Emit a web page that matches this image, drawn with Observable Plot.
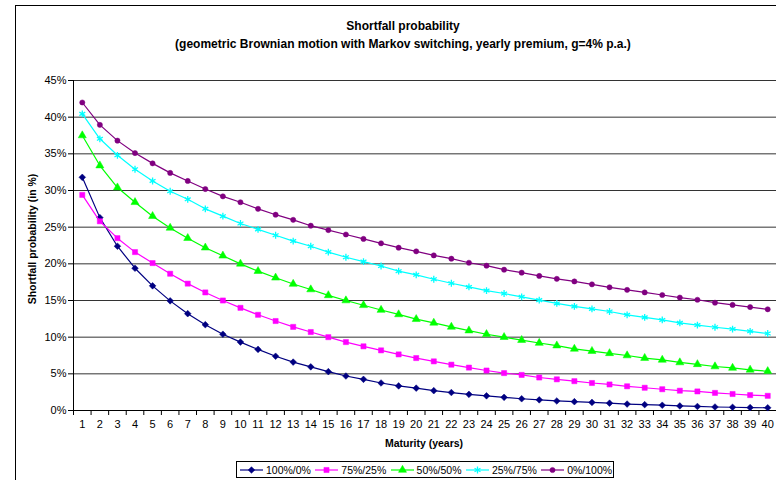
<!DOCTYPE html>
<html>
<head>
<meta charset="utf-8">
<script src="https://cdn.jsdelivr.net/npm/d3@7"></script>
<script src="https://cdn.jsdelivr.net/npm/@observablehq/plot@0.6"></script>
<style>
  html, body { margin: 0; padding: 0; background: #fff; overflow: hidden; }
  #wrap { position: relative; width: 776px; height: 480px; overflow: hidden; font-family: "Liberation Sans", Arial, sans-serif; }
  #frame { position: absolute; left: 15px; top: 5px; width: 900px; height: 600px; border: 1.5px solid #000; box-sizing: border-box; }
  #chart { position: absolute; left: 0; top: 0; }
  .t { position: absolute; font-weight: bold; white-space: nowrap; color: #000; }
  #legend { position: absolute; left: 236px; top: 461px; width: 378px; height: 17px; border: 1px solid #000; box-sizing: border-box; background: #fff; }
  .li { position: absolute; top: 0; height: 15px; display: flex; align-items: center; font-size: 10.5px; white-space: nowrap; }
</style>
</head>
<body>
<div id="wrap">
  <div id="frame"></div>
  <div id="chart"></div>
  <div class="t" id="title" style="left:203px; width:400px; top:19px; text-align:center; font-size:12px;">Shortfall probability</div>
  <div class="t" id="subtitle" style="left:103px; width:600px; top:37px; text-align:center; font-size:12px;">(geometric Brownian motion with Markov switching, yearly premium, g=4% p.a.)</div>
  <div class="t" id="xlabel" style="left:324px; width:200px; top:437px; text-align:center; font-size:10.5px;">Maturity (years)</div>
  <div class="t" id="ylabel" style="left:-68px; width:200px; top:233px; text-align:center; font-size:10.5px; transform: rotate(-90deg);">Shortfall probability (in %)</div>
  <div id="legend"></div>
</div>
<script>
const maturities = d3.range(1, 41);
const seriesNames = ["100%/0%", "75%/25%", "50%/50%", "25%/75%", "0%/100%"];
const yTicks = [0, 5, 10, 15, 20, 25, 30, 35, 40, 45];

const s100_0 = [31.8, 26.3, 22.4, 19.4, 17.0, 14.95, 13.2, 11.7, 10.4, 9.33, 8.33, 7.4, 6.6, 5.95, 5.3, 4.7, 4.25, 3.75, 3.35, 3.05, 2.7, 2.45, 2.2, 2.0, 1.8, 1.6, 1.45, 1.3, 1.2, 1.1, 1.0, 0.88, 0.8, 0.72, 0.62, 0.55, 0.48, 0.44, 0.4, 0.37];
const s75_25 = [29.4, 25.8, 23.5, 21.6, 20.1, 18.65, 17.3, 16.1, 15.0, 14.0, 13.05, 12.2, 11.4, 10.7, 10.0, 9.33, 8.75, 8.2, 7.65, 7.15, 6.7, 6.25, 5.85, 5.45, 5.1, 4.85, 4.5, 4.25, 4.0, 3.75, 3.55, 3.3, 3.1, 2.9, 2.7, 2.6, 2.4, 2.25, 2.1, 2.0];
const s50_50 = [37.5, 33.4, 30.4, 28.4, 26.5, 24.9, 23.5, 22.2, 21.1, 20.0, 19.0, 18.1, 17.25, 16.5, 15.7, 15.0, 14.35, 13.7, 13.1, 12.45, 11.95, 11.4, 10.9, 10.4, 10.0, 9.6, 9.2, 8.85, 8.4, 8.1, 7.8, 7.5, 7.15, 6.9, 6.55, 6.3, 6.0, 5.8, 5.55, 5.35];
const s25_75 = [40.45, 37.05, 34.8, 32.9, 31.3, 29.9, 28.8, 27.5, 26.5, 25.5, 24.7, 23.9, 23.1, 22.4, 21.6, 20.9, 20.3, 19.7, 19.0, 18.5, 17.9, 17.35, 16.85, 16.35, 15.95, 15.5, 15.05, 14.6, 14.2, 13.85, 13.5, 13.05, 12.7, 12.35, 11.95, 11.65, 11.35, 11.1, 10.8, 10.5];
const s0_100 = [42.0, 38.95, 36.8, 35.1, 33.7, 32.4, 31.3, 30.2, 29.2, 28.4, 27.5, 26.7, 26.0, 25.2, 24.6, 24.0, 23.4, 22.8, 22.2, 21.7, 21.15, 20.7, 20.15, 19.75, 19.2, 18.8, 18.35, 17.95, 17.6, 17.2, 16.8, 16.45, 16.1, 15.75, 15.4, 15.1, 14.7, 14.4, 14.1, 13.8];

const seriesValues = [s100_0, s75_25, s50_50, s25_75, s0_100];
const colors = ["#000080", "#FF00FF", "#00FF00", "#00FFFF", "#800080"];
const symbols = ["diamond2", "square", "triangle", "asterisk", "circle"];
const radii = [3.0, 2.9, 3.0, 3.2, 2.6];

const rows = [];
seriesNames.forEach((name, i) => {
  seriesValues[i].forEach((v, j) => rows.push({series: name, maturity: maturities[j], value: v}));
});

const marks = [
  Plot.ruleY(yTicks.filter(d => d > 0), {stroke: "#333", strokeWidth: 1}),
  Plot.axisY({ticks: yTicks, tickFormat: d => d + "%", tickSize: 5, tickPadding: 2, label: null, fontSize: 11}),
  Plot.axisX({ticks: d3.range(0.5, 41, 1), tickFormat: () => "", tickSize: 5, label: null}),
  Plot.axisX({ticks: maturities, tickFormat: d => String(d), tickSize: 0, tickPadding: 10, label: null, fontSize: 11}),
  Plot.ruleX([0.5], {stroke: "#000", strokeWidth: 1}),
  Plot.ruleY([0], {stroke: "#000", strokeWidth: 1})
];
seriesNames.forEach((name, i) => {
  const d = rows.filter(r => r.series === name);
  marks.push(Plot.line(d, {x: "maturity", y: "value", stroke: colors[i], strokeWidth: 1.2}));
  const isStroke = symbols[i] === "asterisk";
  marks.push(Plot.dot(d, {
    x: "maturity", y: "value", symbol: () => symbols[i], r: radii[i],
    fill: isStroke ? "none" : colors[i],
    stroke: colors[i], strokeWidth: isStroke ? 1.3 : 0.5
  }));
});

const chart = Plot.plot({
  width: 776,
  height: 480,
  marginLeft: 73,
  marginRight: 0,
  marginTop: 80,
  marginBottom: 70,
  style: {fontFamily: "'Liberation Sans', Arial, sans-serif", fontSize: "11px", background: "transparent", color: "#000"},
  x: {type: "linear", domain: [0.5, 40.5]},
  y: {domain: [0, 45]},
  symbol: {type: "identity"},
  marks
});
document.getElementById("chart").appendChild(chart);

// Legend
const legend = d3.select("#legend");
const startX = 3, step = 75.3;
seriesNames.forEach((name, i) => {
  const item = legend.append("div").attr("class", "li").style("left", (startX + i * step) + "px");
  const svg = item.append("svg").attr("width", 24).attr("height", 10).style("margin-right", "2px");
  svg.append("line").attr("x1", 0).attr("x2", 23).attr("y1", 5).attr("y2", 5).attr("stroke", colors[i]).attr("stroke-width", 1.2);
  const symType = {diamond2: d3.symbolDiamond2, square: d3.symbolSquare, triangle: d3.symbolTriangle, asterisk: d3.symbolAsterisk, circle: d3.symbolCircle}[symbols[i]];
  const isStroke = symbols[i] === "asterisk";
  svg.append("path")
    .attr("d", d3.symbol(symType, Math.PI * radii[i] * radii[i])())
    .attr("transform", "translate(11.5,5)")
    .attr("fill", isStroke ? "none" : colors[i])
    .attr("stroke", colors[i])
    .attr("stroke-width", isStroke ? 1.3 : 0.5);
  item.append("span").text(name);
});
</script>
</body>
</html>
